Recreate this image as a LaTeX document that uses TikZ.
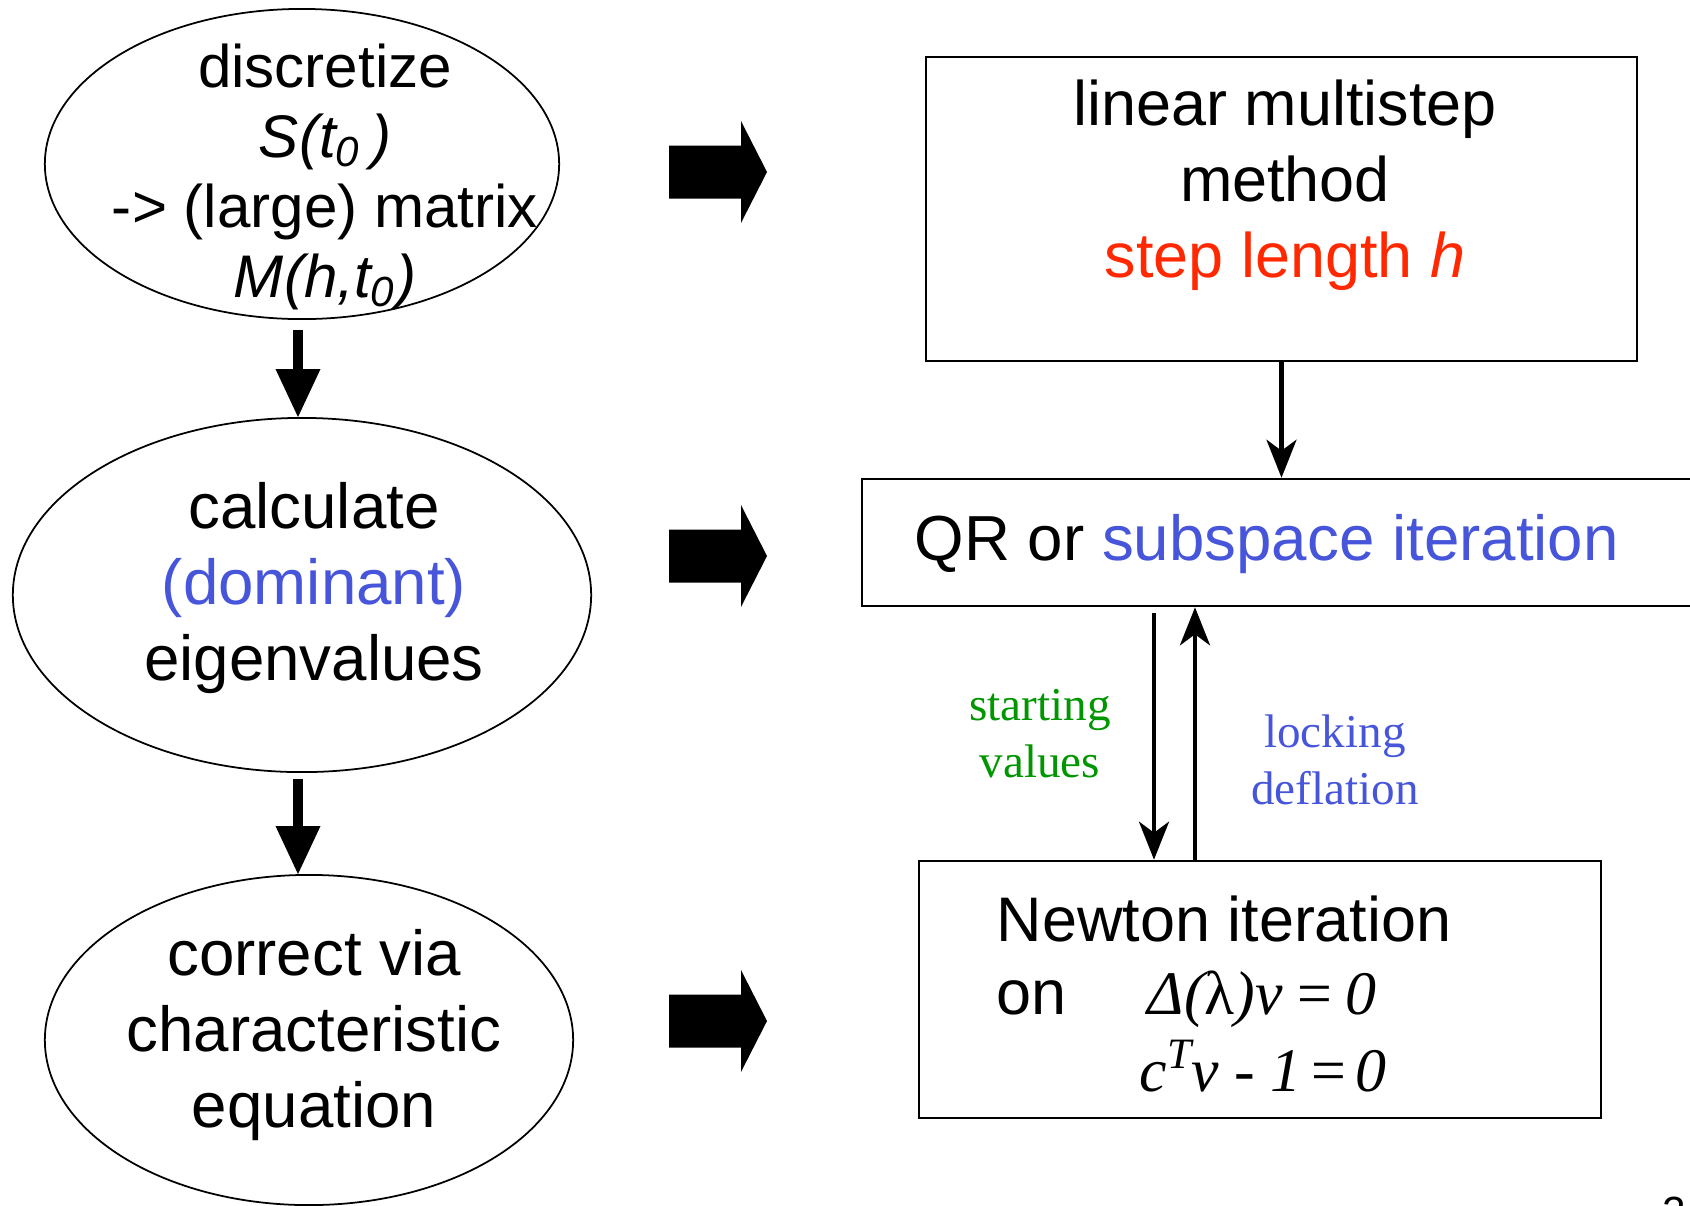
\documentclass[tikz,border=0pt]{standalone}
\usepackage{fontspec}
\setmainfont{Liberation Sans}
\newfontfamily\tms{Liberation Serif}
\usetikzlibrary{arrows.meta,shapes.geometric}
\definecolor{myred}{RGB}{255,40,0}
\definecolor{myblue}{RGB}{70,85,217}
\definecolor{mygreen}{RGB}{0,150,0}
\begin{document}
\begin{tikzpicture}[x=0.01cm,y=-0.01cm,
  oval/.style={ellipse,draw,line width=0.5pt,inner sep=0pt},
  box/.style={rectangle,draw,line width=0.7pt,inner sep=0pt},
  txt/.style={inner sep=0pt,align=center,font=\fontsize{17.9}{21.6}\selectfont},
  bigarrow/.style={line width=2.85pt,-{Triangle[width=0.45cm,length=0.48cm,line width=0pt]}},
  thinarrow/.style={line width=1.2pt,-{Stealth[width=0.3cm,length=0.38cm,inset=0.11cm]}},
  lbl/.style={inner sep=0pt,align=center,font=\tms\fontsize{13.4}{16.2}\selectfont},
  eqn/.style={inner sep=0pt,anchor=base west,font=\tms\fontsize{17.6}{20}\selectfont},
  blockarrow/.style={fill=black}
  ]
\useasboundingbox (0,0) rectangle (1690,1205);

% left column
\node[oval,minimum width=5.14cm,minimum height=3.1cm] (e1) at (302,164) {};
\node[txt,font=\fontsize{17.1}{19.9}\selectfont] (t1) at (325,177)
  {discretize\\\textit{S(t\textsubscript{0}\,)}\\-> (large) matrix\\\textit{M(h,t\textsubscript{0})}};
\node[oval,minimum width=5.78cm,minimum height=3.54cm] (e2) at (302,595) {};
\node[txt,font=\fontsize{18.1}{21.5}\selectfont] (t2) at (314,588)
  {calculate\\\textcolor{myblue}{(dominant)}\\eigenvalues};
\node[oval,minimum width=5.28cm,minimum height=3.3cm] (e3) at (309,1040) {};
\node[txt,font=\fontsize{18.1}{21.5}\selectfont] (t3) at (314,1035)
  {correct via\\characteristic\\equation};

\coordinate (ax) at (298,0);
\draw[bigarrow,shorten <=0.1cm] (ax |- e1.south) -- (ax |- e2.north);
\draw[bigarrow,shorten <=0.06cm] (ax |- e2.south) -- (ax |- e3.north);

% block arrows
\foreach \yy in {172,556,1021}{
  \fill[blockarrow] (669,{\yy-26.5}) -- (741,{\yy-26.5}) -- (741,{\yy-51}) -- (767,\yy)
    -- (741,{\yy+51}) -- (741,{\yy+26.5}) -- (669,{\yy+26.5}) -- cycle;
}

% right column
\node[box,minimum width=7.11cm,minimum height=3.04cm] (b1) at (1281.5,209) {};
\node[txt] (b1t) at (1285,185.5)
  {linear multistep\\method\\\textcolor{myred}{step length \textit{h}}};
\node[box,minimum width=8.6cm,minimum height=1.27cm] (b2) at (1292,542.5) {};
\node[txt,anchor=base west,font=\fontsize{18.1}{21.6}\selectfont] (b2t) at (914,560) {QR or \textcolor{myblue}{subspace iteration}};
\node[box,minimum width=6.82cm,minimum height=2.57cm] (b3) at (1260,989.5) {};
\node[txt,anchor=base west] (b3a) at (996,941) {Newton iteration};
\node[txt,anchor=base west] (b3b) at (996,1014) {on};
\node[eqn] (b3c) at (1147,1014) {\itshape Δ(\upshape λ\itshape )v\,=\,0};
\node[eqn] (b3d) at (1139,1091) {\itshape c\textsuperscript{T}\kern-0.02em v - 1\kern0.1em=\kern0.1em0};

\draw[thinarrow] (b1.south) -- (b1.south |- b2.north);
\coordinate (svtop) at (1154,613);
\draw[thinarrow] (svtop) -- (svtop |- b3.north);
\coordinate (ldx) at (1195,861);
\draw[thinarrow] (ldx |- b3.north) -- (ldx |- b2.south);

\node[lbl,text=mygreen] (sv) at (1040,734) {starting\\values};
\node[lbl,text=myblue] (ld) at (1335,760) {locking\\deflation};

\node[anchor=north west,inner sep=0pt,font=\fontsize{12}{14}\selectfont] (pg) at (1662,1196) {2};
\end{tikzpicture}
\end{document}
